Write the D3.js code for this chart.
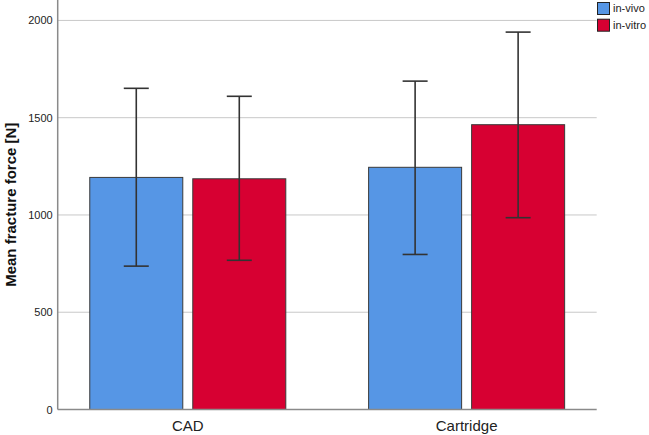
<!DOCTYPE html>
<html>
<head>
<meta charset="utf-8">
<script src="https://cdn.jsdelivr.net/npm/d3@7"></script>
<style>
  html, body { margin: 0; padding: 0; background: #fff; }
  svg { display: block; font-family: "Liberation Sans", Arial, sans-serif; }
</style>
</head>
<body>
<svg id="chart" width="649" height="435"></svg>
<script>
const categories = ["CAD", "Cartridge"];
const seriesNames = ["in-vivo", "in-vitro"];
const meanInVivo = [1193, 1245];
const meanInVitro = [1186, 1464];
const lowInVivo = [737, 797];
const lowInVitro = [767, 986];
const highInVivo = [1651, 1688];
const highInVitro = [1610, 1940];
const yTicks = [0, 500, 1000, 1500, 2000];
const colors = ["#5696e5", "#d70032"];

(function () {
const meanArr = [meanInVivo, meanInVitro];
const lowArr = [lowInVivo, lowInVitro];
const highArr = [highInVivo, highInVitro];

const rows = [];
categories.forEach((c, i) => {
  seriesNames.forEach((s, j) => {
    rows.push({cat: c, ser: s, mean: meanArr[j][i], low: lowArr[j][i], high: highArr[j][i], color: colors[j]});
  });
});

const svg = d3.select("#chart");
const pLeft = 57.7, pRight = 596.7, pTop = 0, pBottom = 409.5;

const x0 = d3.scaleBand().domain(categories).range([pLeft, pRight])
  .paddingInner(0.297).paddingOuter(0.115);
const x1 = d3.scaleBand().domain(seriesNames).range([0, x0.bandwidth()])
  .paddingInner(0.097).paddingOuter(0);
const y = d3.scaleLinear().domain([0, 2105]).range([pBottom, pTop]);

// gridlines
svg.append("g").selectAll("line").data(yTicks.filter(d => d > 0)).join("line")
  .attr("x1", pLeft).attr("x2", pRight)
  .attr("y1", d => y(d)).attr("y2", d => y(d))
  .attr("stroke", "#c8c8c8").attr("stroke-width", 1);

// y axis labels
const yAxis = d3.axisLeft(y).tickValues(yTicks).tickSize(0).tickPadding(5).tickFormat(d3.format("d"));
const ga = svg.append("g").attr("transform", `translate(${pLeft},0)`).call(yAxis);
ga.select(".domain").remove();
ga.selectAll("text").attr("font-size", 11).attr("fill", "#222").attr("font-family", "Liberation Sans, Arial, sans-serif");

// bars
svg.append("g").selectAll("rect").data(rows).join("rect")
  .attr("x", d => x0(d.cat) + x1(d.ser))
  .attr("y", d => y(d.mean))
  .attr("width", x1.bandwidth())
  .attr("height", d => y(0) - y(d.mean))
  .attr("fill", d => d.color)
  .attr("stroke", "#3a3a3a").attr("stroke-width", 1);

// error bars
const eg = svg.append("g").attr("stroke", "#333").attr("stroke-width", 1.6);
rows.forEach(d => {
  const cx = x0(d.cat) + x1(d.ser) + x1.bandwidth() / 2;
  eg.append("line").attr("x1", cx).attr("x2", cx).attr("y1", y(d.low)).attr("y2", y(d.high));
  eg.append("line").attr("x1", cx - 12.5).attr("x2", cx + 12.5).attr("y1", y(d.low)).attr("y2", y(d.low));
  eg.append("line").attr("x1", cx - 12.5).attr("x2", cx + 12.5).attr("y1", y(d.high)).attr("y2", y(d.high));
});

// axes lines
svg.append("line").attr("x1", pLeft).attr("x2", pLeft).attr("y1", pTop).attr("y2", pBottom)
  .attr("stroke", "#8a8a8a").attr("stroke-width", 1.5);
svg.append("line").attr("x1", pLeft).attr("x2", pRight).attr("y1", pBottom).attr("y2", pBottom)
  .attr("stroke", "#8a8a8a").attr("stroke-width", 1.5);

// x axis labels
const xAxis = d3.axisBottom(x0).tickSize(0).tickPadding(11);
const gx = svg.append("g").attr("transform", `translate(0,${pBottom})`).call(xAxis);
gx.select(".domain").remove();
gx.selectAll("text").attr("font-size", 15).attr("fill", "#222").attr("font-family", "Liberation Sans, Arial, sans-serif");

// y title
svg.append("text")
  .attr("transform", `translate(16,${(pTop + pBottom) / 2}) rotate(-90)`)
  .attr("text-anchor", "middle")
  .attr("font-size", 15).attr("font-weight", "bold").attr("fill", "#111")
  .text("Mean fracture force [N]");

// legend
const lg = svg.append("g").attr("transform", "translate(597.5,2.5)");
seriesNames.forEach((s, j) => {
  const g = lg.append("g").attr("transform", `translate(0,${j * 16.7})`);
  g.append("rect").attr("width", 12).attr("height", 12).attr("fill", colors[j])
    .attr("stroke", "#222").attr("stroke-width", 1);
  g.append("text").attr("x", 15.5).attr("y", 6.5).attr("dominant-baseline", "middle")
    .attr("font-size", 11).attr("fill", "#222").text(s);
});
})();
</script>
</body>
</html>
